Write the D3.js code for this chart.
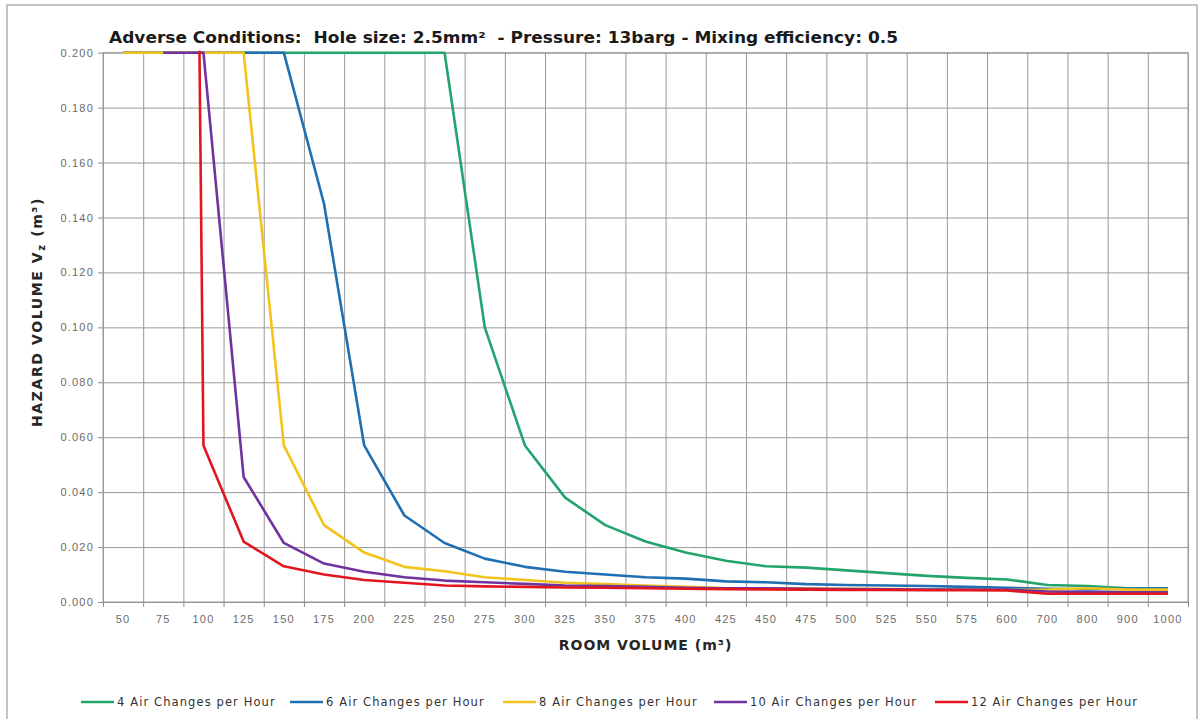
<!DOCTYPE html>
<html lang="en">
<head>
    <meta charset="UTF-8">
    <title>Hazard Volume vs Room Volume</title>
    <script src="https://d3js.org/d3.v7.min.js"></script>
    <style>
        body { margin: 0; background: #fff; }
        svg { font-family: "DejaVu Sans", Verdana, sans-serif; }
        .tick text { fill: #6b6b6b; }
    </style>
</head>
<body>
    <svg id="chart" width="1203" height="719"></svg>

    <script>
        // Room volume categories (m3)
        const roomVolumes = ["50", "75", "100", "125", "150", "175", "200", "225", "250", "275", "300", "325", "350",
            "375", "400", "425", "450", "475", "500", "525", "550", "575", "600", "700", "800", "900", "1000"];

        // Hazard volume per air change rate (null = no value)
        const ach4 = [0.2, 0.2, 0.2, 0.2, 0.2, 0.2, 0.2, 0.2, 0.2, 0.100, 0.057, 0.038, 0.028, 0.022, 0.018, 0.015,
            0.013, 0.0125, 0.0115, 0.0105, 0.0095, 0.0088, 0.0082, 0.0062, 0.0058, 0.005, 0.005];
        const ach6 = [0.2, 0.2, 0.2, 0.2, 0.2, 0.145, 0.057, 0.0315, 0.0215, 0.0158, 0.0128, 0.011, 0.010, 0.009,
            0.0085, 0.0075, 0.0072, 0.0065, 0.0062, 0.006, 0.0058, 0.0055, 0.0052, 0.0048, 0.0046, 0.0048, 0.005];
        const ach8 = [0.2, 0.2, 0.2, 0.2, 0.057, 0.028, 0.018, 0.0128, 0.0112, 0.009, 0.008, 0.007, 0.0065, 0.006,
            0.0055, 0.005, 0.005, 0.005, 0.0048, 0.0047, 0.0046, 0.0045, 0.0044, 0.0045, 0.005, 0.0045, 0.0045];
        const ach10 = [null, 0.2, 0.2, 0.0455, 0.0215, 0.014, 0.011, 0.009, 0.0078, 0.0072, 0.0066, 0.006, 0.0058,
            0.0055, 0.0052, 0.005, 0.005, 0.0048, 0.0047, 0.0046, 0.0045, 0.0045, 0.0045, 0.0038, 0.0036, 0.0035, 0.0035];
        const ach12 = [null, 1.5, 0.057, 0.022, 0.013, 0.010, 0.008, 0.007, 0.006, 0.0057, 0.0055, 0.0053, 0.0052,
            0.005, 0.0048, 0.0047, 0.0046, 0.0045, 0.0044, 0.0044, 0.0043, 0.0043, 0.0042, 0.003, 0.003, 0.003, 0.003];

        const seriesNames = ["4 Air Changes per Hour", "6 Air Changes per Hour", "8 Air Changes per Hour",
            "10 Air Changes per Hour", "12 Air Changes per Hour"];
        const seriesValues = [ach4, ach6, ach8, ach10, ach12];
        const seriesColors = ["#22a46c", "#1f6fb2", "#f4c21c", "#6f33a0", "#e3161f"];

        const yTicks = d3.range(0, 0.2001, 0.02);

        const svg = d3.select("#chart");
        const plot = { left: 103, right: 1188, top: 52.7, bottom: 602 };
        const width = plot.right - plot.left,
            height = plot.bottom - plot.top;

        // outer chart frame
        svg.append("rect")
            .attr("x", 7).attr("y", 5)
            .attr("width", 1190).attr("height", 740)
            .attr("fill", "#fff")
            .attr("stroke", "#c4c4c4")
            .attr("stroke-width", 2);

        const chart = svg.append("g")
            .attr("transform", `translate(${plot.left},${plot.top})`);

        // Scales
        const x = d3.scaleBand().domain(roomVolumes).range([0, width]).paddingInner(0).paddingOuter(0);
        const xEdge = d3.scaleLinear().domain([0, roomVolumes.length]).range([0, width]);
        const y = d3.scaleLinear().domain([0, 0.2]).range([height, 0]);

        // Horizontal gridlines + y labels
        chart.append("g")
            .call(d3.axisLeft(y).tickValues(yTicks).tickFormat(d3.format(".3f")).tickSize(5).tickPadding(4))
            .call(g => g.select(".domain").remove())
            .call(g => g.selectAll("line").attr("stroke", "#8c8c8c"))
            .call(g => g.selectAll("text").attr("font-size", 11).attr("letter-spacing", "1.2px"));

        chart.append("g")
            .call(d3.axisLeft(y).tickValues(yTicks).tickFormat("").tickSize(-width))
            .call(g => g.select(".domain").remove())
            .call(g => g.selectAll("line").attr("stroke", "#9a9a9a").attr("stroke-width", 1));

        // Vertical gridlines at category boundaries
        chart.append("g")
            .attr("transform", `translate(0,${height})`)
            .call(d3.axisBottom(xEdge).tickValues(d3.range(0, roomVolumes.length + 1)).tickFormat("")
                .tickSizeInner(-height).tickSizeOuter(0))
            .call(g => g.select(".domain").remove())
            .call(g => g.selectAll("line").attr("stroke", "#9a9a9a"));

        // tick marks below axis
        chart.append("g")
            .attr("transform", `translate(0,${height})`)
            .call(d3.axisBottom(xEdge).tickValues(d3.range(0, roomVolumes.length + 1)).tickFormat("")
                .tickSize(5))
            .call(g => g.select(".domain").attr("stroke", "#8c8c8c"))
            .call(g => g.selectAll("line").attr("stroke", "#8c8c8c"));

        // category labels
        chart.append("g")
            .attr("transform", `translate(0,${height})`)
            .call(d3.axisBottom(x).tickSize(0).tickPadding(13))
            .call(g => g.select(".domain").remove())
            .call(g => g.selectAll("text").attr("font-size", 11).attr("letter-spacing", "1.2px"));

        // plot border
        chart.append("rect")
            .attr("width", width).attr("height", height)
            .attr("fill", "none").attr("stroke", "#9a9a9a");

        // clip for lines
        svg.append("clipPath").attr("id", "plotClip")
            .append("rect")
            .attr("x", -2).attr("y", -2)
            .attr("width", width + 4).attr("height", height + 4);

        const line = d3.line()
            .defined(d => d != null)
            .x((d, i) => x(roomVolumes[i]) + x.bandwidth() / 2)
            .y(d => y(d));

        const lines = chart.append("g").attr("clip-path", "url(#plotClip)");
        seriesValues.forEach((vals, k) => {
            lines.append("path")
                .datum(vals)
                .attr("fill", "none")
                .attr("stroke", seriesColors[k])
                .attr("stroke-width", 2.6)
                .attr("stroke-linejoin", "round")
                .attr("d", line);
        });

        // Title
        svg.append("text")
            .attr("x", 109).attr("y", 43)
            .attr("font-size", 15.5)
            .attr("font-weight", "bold")
            .attr("fill", "#1a1a1a")
            .attr("textLength", 789)
            .attr("lengthAdjust", "spacingAndGlyphs")
            .style("white-space", "pre")
            .text("Adverse Conditions:  Hole size: 2.5mm\u00b2  - Pressure: 13barg - Mixing efficiency: 0.5");

        // Axis titles
        svg.append("text")
            .attr("x", plot.left + width / 2).attr("y", 650)
            .attr("text-anchor", "middle")
            .attr("font-size", 14)
            .attr("font-weight", "bold")
            .attr("letter-spacing", "1px")
            .attr("fill", "#262626")
            .text("ROOM VOLUME (m\u00b3)");

        const yTitle = svg.append("text")
            .attr("transform", "translate(42,312) rotate(-90)")
            .attr("text-anchor", "middle")
            .attr("font-size", 14)
            .attr("font-weight", "bold")
            .attr("letter-spacing", "1.6px")
            .attr("fill", "#262626");
        yTitle.append("tspan").text("HAZARD VOLUME V");
        yTitle.append("tspan").attr("font-size", 10).attr("dy", 3).text("z");
        yTitle.append("tspan").attr("dy", -3).text(" (m\u00b3)");

        // Legend
        const legendX = [81, 290, 503, 714, 935];
        const legend = svg.selectAll(".legend")
            .data(seriesNames)
            .enter().append("g")
            .attr("class", "legend")
            .attr("transform", (d, i) => `translate(${legendX[i]},702)`);

        legend.append("line")
            .attr("x1", 0).attr("x2", 33)
            .attr("stroke", (d, i) => seriesColors[i])
            .attr("stroke-width", 2.6);

        legend.append("text")
            .attr("x", 36).attr("dy", "0.35em")
            .attr("font-size", 11.5)
            .attr("letter-spacing", "1.1px")
            .attr("fill", "#333")
            .text(d => d);
    </script>
</body>
</html>
